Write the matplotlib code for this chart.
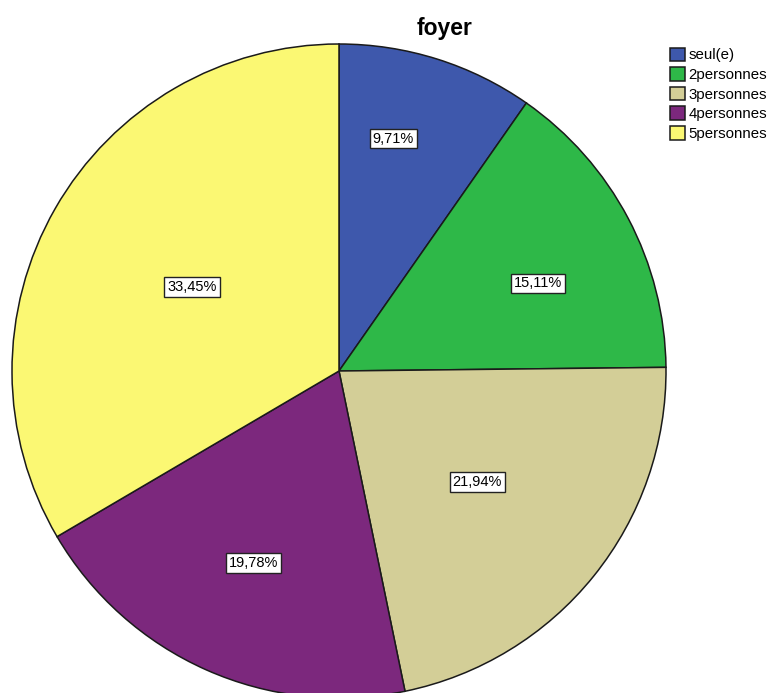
import numpy as np
import matplotlib
matplotlib.use('Agg')
import matplotlib.pyplot as plt

plt.rcParams['font.family'] = ['Liberation Sans', 'DejaVu Sans']

categories = ['seul(e)', '2personnes', '3personnes', '4personnes', '5personnes']
percents = [9.71, 15.11, 21.94, 19.78, 33.45]
colors = ['#3e58ac', '#2eb848', '#d3ce97', '#7c287d', '#fbf873']
# label placement: radius (fraction of pie radius) and angle shift from slice middle
label_r = [0.730, 0.665, 0.543, 0.642, 0.518]
label_shift = [4.3, -4.1, 0.0, 0.0, 0.0]

fig = plt.figure(figsize=(7.72, 6.93), dpi=100)
ax = fig.add_axes([0, 0, 1, 1])
ax.set_axis_off()

# pie centre at (339, 371) px, radius 327 px
cx, cy, rpx = 339, 371, 327

wedges, _ = ax.pie(percents, colors=colors, startangle=90, counterclock=False,
                   wedgeprops=dict(edgecolor='#1a1a1a', linewidth=1.1))
ax.set_aspect('auto')
ax.set_xlim(-cx / rpx, (772 - cx) / rpx)
ax.set_ylim((cy - 693) / rpx, cy / rpx)

cum = np.cumsum([0] + percents[:-1])
for p, c, r, s in zip(percents, cum, label_r, label_shift):
    ang = np.deg2rad(90 - (c + p / 2) * 3.6 + s)
    ax.text(r * np.cos(ang), r * np.sin(ang), f'{p:.2f}%'.replace('.', ','),
            ha='center', va='center', fontsize=10.5,
            bbox=dict(boxstyle='square,pad=0.2', facecolor='white',
                      edgecolor='#222222', linewidth=1.0))

fig.text(445 / 772, 1 - 28 / 693, 'foyer', ha='center', va='center',
         fontsize=16.5, fontweight='bold')

leg = fig.legend(wedges, categories, loc='upper left',
                 bbox_to_anchor=(659 / 772, 1 - 37 / 693), frameon=False,
                 fontsize=10.8, handlelength=1.0, handleheight=1.0,
                 handletextpad=0.26, labelspacing=0.32, borderpad=0.2)

fig.savefig('out.png', dpi=100)
